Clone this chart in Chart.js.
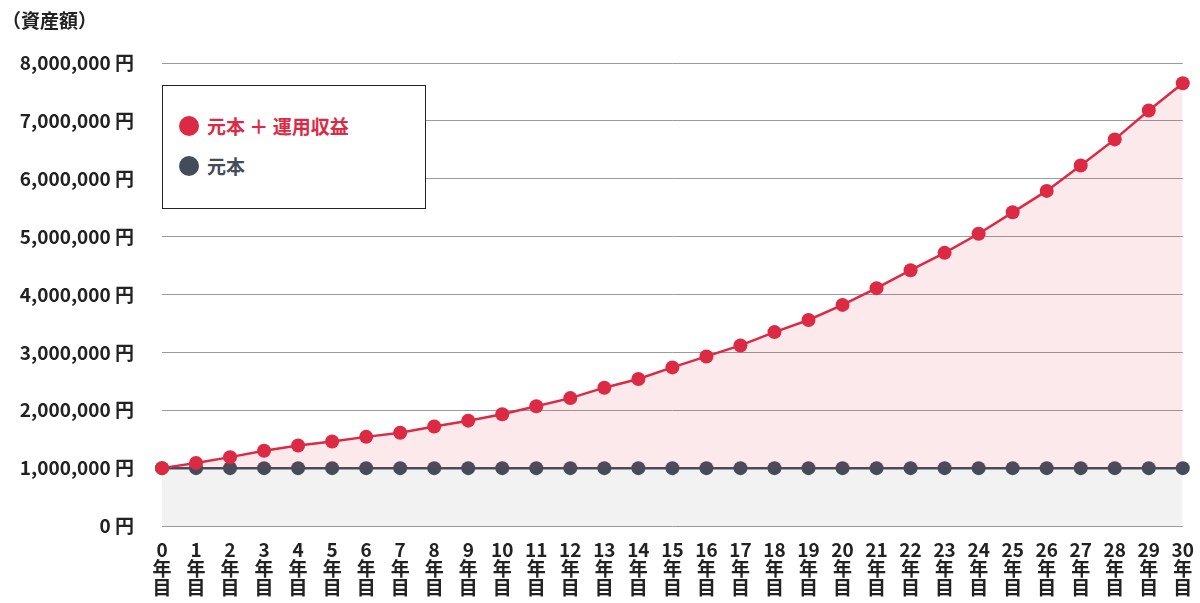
<!DOCTYPE html>
<html><head><meta charset="utf-8">
<script src="https://cdn.jsdelivr.net/npm/chart.js@4"></script>
<style>
html,body{margin:0;padding:0;background:#fff;}
#wrap{position:relative;width:1200px;height:603px;font-family:"Noto Sans CJK JP";}
#title{position:absolute;left:2px;top:6px;font-size:19px;font-weight:bold;color:#222;}
#legend{position:absolute;left:162px;top:85px;width:264px;height:124px;border:1.5px solid #222;background:#fff;box-sizing:border-box;font-size:19px;font-weight:bold;}
.it{position:absolute;left:16px;display:flex;align-items:center;}
.dot{width:20px;height:20px;border-radius:50%;margin-right:8px;}
</style></head><body>
<div id="wrap">
<canvas id="c" width="1200" height="603"></canvas>
<div id="title">（資産額）</div>
<div id="legend">
<div class="it" style="top:26px;color:#dc2a45"><span class="dot" style="background:#dc2a45"></span>元本 ＋ 運用収益</div>
<div class="it" style="top:66px;color:#444c5a"><span class="dot" style="background:#444c5a"></span>元本</div>
</div>
</div>
<script>
const years=[0,1,2,3,4,5,6,7,8,9,10,11,12,13,14,15,16,17,18,19,20,21,22,23,24,25,26,27,28,29,30];
const total=[1.0,1.09,1.19,1.30,1.39,1.46,1.54,1.61,1.72,1.82,1.93,2.07,2.21,2.39,2.54,2.74,2.93,3.12,3.35,3.56,3.82,4.11,4.42,4.72,5.05,5.42,5.79,6.23,6.68,7.18,7.65];
const principal=years.map(()=>1.0);
const yTicks=[0,1,2,3,4,5,6,7,8];
const toYen=v=>v*1000000;
new Chart(document.getElementById('c'),{
type:'line',
data:{labels:years.map(y=>[String(y),'年','目']),
datasets:[
{data:total.map(toYen),borderColor:'#dc2a45',backgroundColor:'rgba(220,42,69,0.1)',fill:'+1',pointRadius:7,pointBackgroundColor:'#dc2a45',pointBorderWidth:0,borderWidth:2.5,tension:0,clip:false,order:1},
{data:principal.map(toYen),borderColor:'#444c5a',backgroundColor:'#f2f2f2',fill:'origin',pointRadius:7,pointBackgroundColor:'#444c5a',pointBorderWidth:0,borderWidth:2.5,tension:0,clip:false,order:2}
]},
options:{responsive:false,animation:false,
layout:{padding:{left:0,right:17,top:63,bottom:0}},
plugins:{legend:{display:false},tooltip:{enabled:false}},
scales:{
x:{offset:false,grid:{display:false},border:{display:false},
ticks:{color:'#222',font:{family:'Noto Sans CJK JP',size:19,weight:'bold',lineHeight:1.0},maxRotation:0,autoSkip:false,padding:6}},
y:{min:0,max:8000000,afterBuildTicks:a=>{a.ticks=yTicks.map(v=>({value:toYen(v)}));},
afterFit:a=>{a.width=162;},
grid:{color:'#9a9a9a',lineWidth:1,drawTicks:false},border:{display:false},
ticks:{color:'#222',padding:28,font:{family:'Noto Sans CJK JP',size:19,weight:'bold'},callback:v=>v.toLocaleString('en-US')+' 円'}}
}}});
</script>
</body></html>
